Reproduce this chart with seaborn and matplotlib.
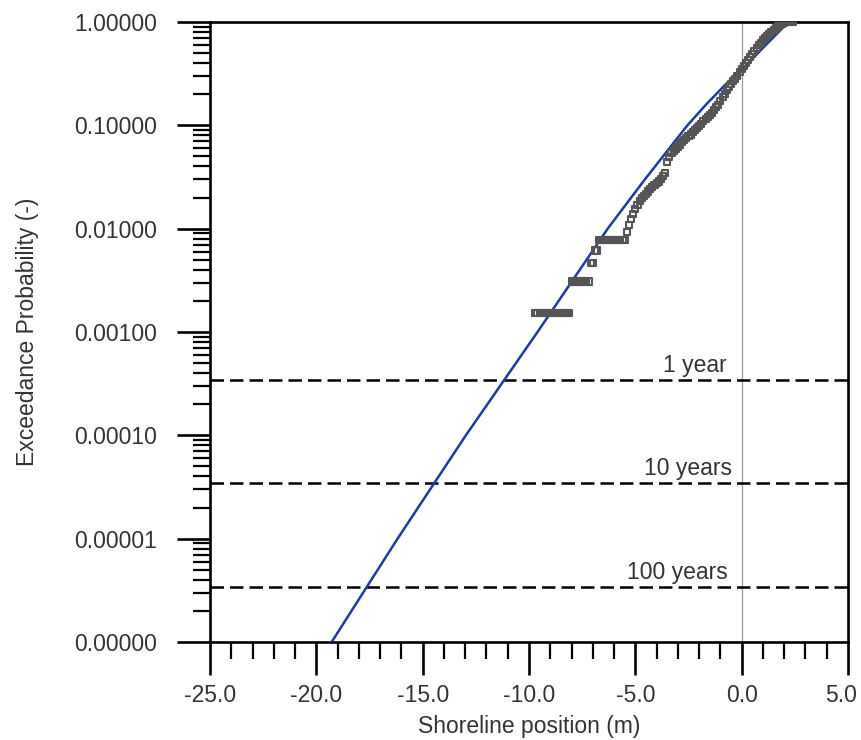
import matplotlib
matplotlib.use("Agg")
import matplotlib.pyplot as plt
import matplotlib.ticker as mticker
import matplotlib.transforms as mtransforms
import numpy as np
import pandas as pd
import seaborn as sns

# Empirical exceedance probability on the shoreline-position grid (m)
emp_x = [
    -9.7, -9.6, -9.5, -9.4, -9.3, -9.2, -9.1, -9.0, -8.9, -8.8, -8.7, -8.6, -8.5, -8.4, -8.3, -8.2, -8.1,
    -8.0, -7.9, -7.8, -7.7, -7.6, -7.5, -7.4, -7.3, -7.2,
    -7.1, -7.0,
    -6.9, -6.8,
    -6.7, -6.6, -6.5, -6.4, -6.3, -6.2, -6.1, -6.0, -5.9, -5.8, -5.7, -5.6, -5.5,
    -5.4, -5.3, -5.2, -5.1, -5.0, -4.9, -4.8, -4.7, -4.6, -4.5,
    -4.4, -4.3, -4.2, -4.1, -4.0, -3.9, -3.8, -3.7, -3.6, -3.5,
    -3.4, -3.3, -3.2, -3.1, -3.0, -2.9, -2.8, -2.7, -2.6, -2.5,
    -2.4, -2.3, -2.2, -2.1, -2.0, -1.9, -1.8, -1.7, -1.6, -1.5,
    -1.4, -1.3, -1.2, -1.1, -1.0, -0.9, -0.8, -0.7, -0.6, -0.5,
    -0.4, -0.3, -0.2, -0.1, 0.0, 0.1, 0.2, 0.3, 0.4, 0.5,
    0.6, 0.7, 0.8, 0.9, 1.0, 1.1, 1.2, 1.3, 1.4, 1.5,
    1.6, 1.7, 1.8, 1.9, 2.0, 2.1, 2.2, 2.3, 2.4,
]
emp_p = [
    0.00154, 0.00154, 0.00154, 0.00154, 0.00154, 0.00154, 0.00154, 0.00154, 0.00154,
    0.00154, 0.00154, 0.00154, 0.00154, 0.00154, 0.00154, 0.00154, 0.00154,
    0.00308, 0.00308, 0.00308, 0.00308, 0.00308, 0.00308, 0.00308, 0.00308, 0.00308,
    0.00462, 0.00462,
    0.00615, 0.00615,
    0.00769, 0.00769, 0.00769, 0.00769, 0.00769, 0.00769, 0.00769, 0.00769, 0.00769,
    0.00769, 0.00769, 0.00769, 0.00769,
    0.0092, 0.0108, 0.0123, 0.0138, 0.0154, 0.0169, 0.0185, 0.0197, 0.0208, 0.0218,
    0.0229, 0.0240, 0.0252, 0.0262, 0.0274, 0.0286, 0.0300, 0.0320, 0.0349, 0.0446,
    0.0495, 0.0537, 0.0565, 0.0594, 0.0622, 0.0652, 0.0683, 0.0715, 0.0750, 0.0780,
    0.0815, 0.0865, 0.0900, 0.0945, 0.0990, 0.104, 0.109, 0.114, 0.120, 0.126,
    0.132, 0.140, 0.149, 0.158, 0.172, 0.187, 0.203, 0.218, 0.234, 0.250,
    0.266, 0.283, 0.303, 0.325, 0.349, 0.375, 0.403, 0.432, 0.463, 0.495,
    0.527, 0.560, 0.595, 0.630, 0.665, 0.700, 0.735, 0.770, 0.805, 0.840,
    0.875, 0.910, 0.942, 0.966, 0.982, 0.992, 0.997, 1.000, 1.000,
]

# Fitted distribution
fit_x = [-19.28, -16.18, -12.97, -9.60, -6.30, -4.55, -3.40, -2.55, -1.66, -0.75, 0.00, 1.14, 2.20]
fit_p = [1e-6, 1e-5, 1e-4, 1e-3, 1e-2, 0.03, 0.06, 0.1, 0.16, 0.25, 0.346, 0.6, 1.0]

# Return-period levels
rp_labels = ["1 year", "10 years", "100 years"]
rp_p = [3.42e-4, 3.42e-5, 3.42e-6]
rp_label_x = [-0.71, -0.45, -0.64]

x_ticks = [-25.0, -20.0, -15.0, -10.0, -5.0, 0.0, 5.0]
y_ticks = [1e-6, 1e-5, 1e-4, 1e-3, 1e-2, 1e-1, 1.0]

sns.set_theme(style="ticks")
plt.rcParams["font.family"] = ["Liberation Sans", "DejaVu Sans"]
text_color = "#333333"
fs = 16.5

emp_df = pd.DataFrame({"x": emp_x, "p": emp_p})
fit_df = pd.DataFrame({"x": fit_x, "p": fit_p})

fig = plt.figure(figsize=(8.62, 7.40), dpi=100)
ax = fig.add_axes([0.2436, 0.1324, 0.7402, 0.8379])
ax.set_facecolor("white")

ax.axvline(0.0, color="#9a9a9a", lw=0.9, zorder=1)
for p in rp_p:
    ax.axhline(p, color="black", lw=1.8, linestyle=(0, (5.4, 2.4)), zorder=2)
for lab, p, lx in zip(rp_labels, rp_p, rp_label_x):
    ax.annotate(lab, xy=(lx, p), xytext=(0, 6), textcoords="offset points",
                ha="right", va="baseline", fontsize=fs, color=text_color, zorder=5)

sns.lineplot(data=fit_df, x="x", y="p", sort=False, estimator=None,
             color="#1a3d9e", lw=1.8, ax=ax, zorder=3)
sns.scatterplot(data=emp_df, x="x", y="p", marker="s", s=19,
                facecolor="none", edgecolor="#555555", linewidth=1.5,
                ax=ax, zorder=4)

ax.set_yscale("log")
ax.set_xlim(-25, 5)
ax.set_ylim(1e-6, 1.0)
ax.set_xticks(x_ticks)
ax.xaxis.set_minor_locator(mticker.MultipleLocator(1.0))
ax.xaxis.set_major_formatter(mticker.FuncFormatter(lambda v, _: f"{v:.1f}"))
ax.set_yticks(y_ticks)
ax.yaxis.set_minor_locator(mticker.LogLocator(base=10, subs=np.arange(2, 10), numticks=20))
ax.yaxis.set_major_formatter(mticker.FuncFormatter(lambda v, _: f"{v:.5f}"))
ax.yaxis.set_minor_formatter(mticker.NullFormatter())

ax.tick_params(axis="both", which="major", direction="out", length=24, width=1.9,
               color="black", labelsize=fs, labelcolor=text_color)
ax.tick_params(axis="both", which="minor", direction="out", length=12.5, width=1.6,
               color="black")
ax.tick_params(axis="x", which="major", pad=6)
ax.tick_params(axis="y", which="major", pad=14)

for s in ax.spines.values():
    s.set_visible(True)
    s.set_linewidth(1.9)
    s.set_color("black")

ax.set_xlabel("Shoreline position (m)", fontsize=fs, color=text_color, labelpad=6)
ax.set_ylabel("Exceedance Probability (-)", fontsize=fs, color=text_color)
ax.yaxis.set_label_coords(-0.268, 0.5)
ax.grid(False)

# keep the right-most tick label inside the canvas
fig.canvas.draw()
last = ax.get_xticklabels()[-1]
last.set_transform(last.get_transform() +
                   mtransforms.ScaledTranslation(-5 / 72, 0, fig.dpi_scale_trans))

fig.savefig("out.png", dpi=100, facecolor="white")
